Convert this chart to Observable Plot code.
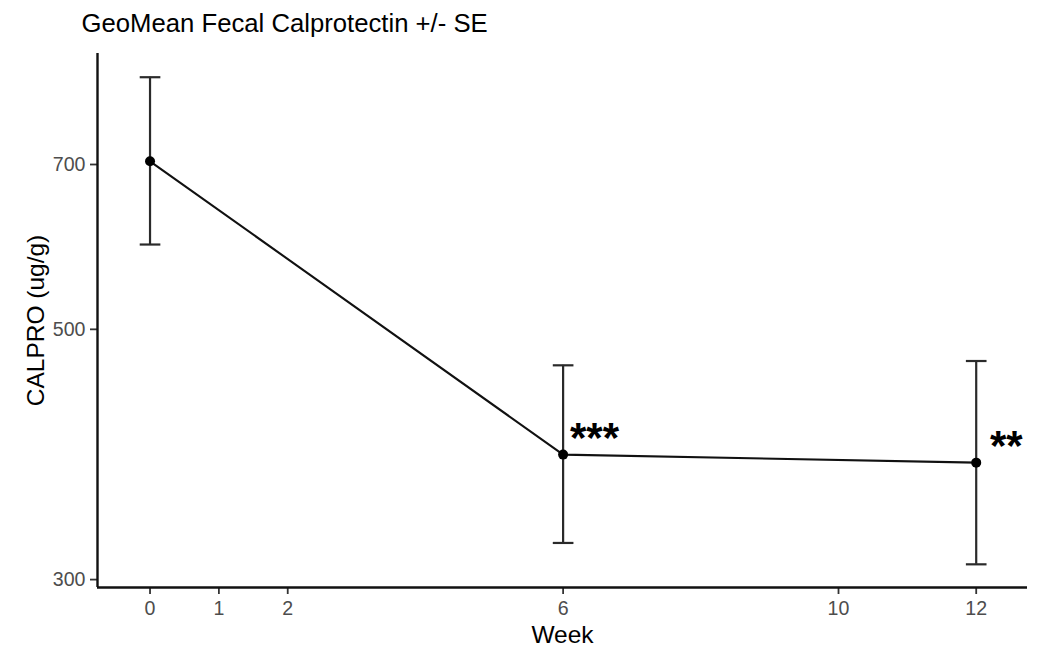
<!DOCTYPE html>
<html>
<head>
<meta charset="utf-8">
<script src="https://cdn.jsdelivr.net/npm/d3@7"></script>
<script src="https://cdn.jsdelivr.net/npm/@observablehq/plot@0.6"></script>
<style>
  html, body { margin: 0; padding: 0; background: #fff; }
  #chart svg { display: block; }
</style>
</head>
<body>
<div id="chart"></div>
<script>
// ---- data ----
const weeks = [0, 6, 12];
const geoMean = [704.6, 387.2, 380.9];
const seLower = [594.5, 323.3, 309.5];
const seUpper = [836.5, 464.6, 468.7];
const sigWeeks = [6.1, 12.2];
const sigValues = [387.2, 380.9];
const sigLabels = ["***", "**"];
const xTicks = [0, 1, 2, 6, 10, 12];
const yTicks = [300, 500, 700];
const titleText = "GeoMean Fecal Calprotectin +/- SE";
const xTitle = "Week";
const yTitle = "CALPRO (ug/g)";

// ---- derived tables ----
const capHalf = 0.15;
const rows = weeks.map((w, i) => ({week: w, mean: geoMean[i], lo: seLower[i], hi: seUpper[i]}));
const caps = rows.flatMap(d => [
  {x1: d.week - capHalf, x2: d.week + capHalf, y: d.lo},
  {x1: d.week - capHalf, x2: d.week + capHalf, y: d.hi}
]);
const sig = sigWeeks.map((w, i) => ({week: w, value: sigValues[i], label: sigLabels[i]}));

const xDomain = [-0.763, 12.745];
const yDomain = [295.2, 878];
const font = "'Liberation Sans', Arial, Helvetica, sans-serif";

const chart = Plot.plot({
  width: 1043,
  height: 647,
  marginTop: 53,
  marginBottom: 60,
  marginLeft: 97,
  marginRight: 16,
  style: {fontFamily: font, background: "#fff", color: "#000"},
  x: {domain: xDomain},
  y: {type: "log", domain: yDomain},
  marks: [
    Plot.axisX({ticks: xTicks, tickFormat: d => String(d), tickSize: 7, tickPadding: 7,
      fontSize: 19.6, fill: "#4d4d4d", stroke: "#333", strokeWidth: 1.8, label: null}),
    Plot.axisY({ticks: yTicks, tickFormat: d => String(d), tickSize: 7, tickPadding: 5,
      fontSize: 19.6, fill: "#4d4d4d", stroke: "#333", strokeWidth: 1.8, label: null}),
    Plot.ruleX([xDomain[0]], {stroke: "#111", strokeWidth: 2.4}),
    Plot.ruleY([yDomain[0]], {stroke: "#111", strokeWidth: 2.4}),
    Plot.ruleX(rows, {x: "week", y1: "lo", y2: "hi", stroke: "#2a2a2a", strokeWidth: 2.2}),
    Plot.link(caps, {x1: "x1", x2: "x2", y1: "y", y2: "y", stroke: "#2a2a2a", strokeWidth: 2.2}),
    Plot.line(rows, {x: "week", y: "mean", stroke: "#111", strokeWidth: 2.1}),
    Plot.dot(rows, {x: "week", y: "mean", r: 5, fill: "#000", stroke: null}),
    Plot.text(sig, {x: "week", y: "value", text: "label", textAnchor: "start", lineAnchor: "bottom",
      dy: -3, fontSize: 42, fontWeight: "bold", fill: "#000"}),
    Plot.text([titleText], {text: d => d, frameAnchor: "top-left", textAnchor: "start", lineAnchor: "bottom",
      dx: -16, dy: -21.3, fontSize: 25.7, fill: "#000"}),
    Plot.text([xTitle], {text: d => d, frameAnchor: "bottom", textAnchor: "middle", lineAnchor: "bottom",
      dy: 55, fontSize: 24.5, fill: "#000"}),
    Plot.text([yTitle], {text: d => d, frameAnchor: "left", textAnchor: "middle", lineAnchor: "bottom", rotate: -90,
      dx: -54, fontSize: 24.5, fill: "#000"})
  ]
});
document.getElementById("chart").appendChild(chart);
</script>
</body>
</html>
